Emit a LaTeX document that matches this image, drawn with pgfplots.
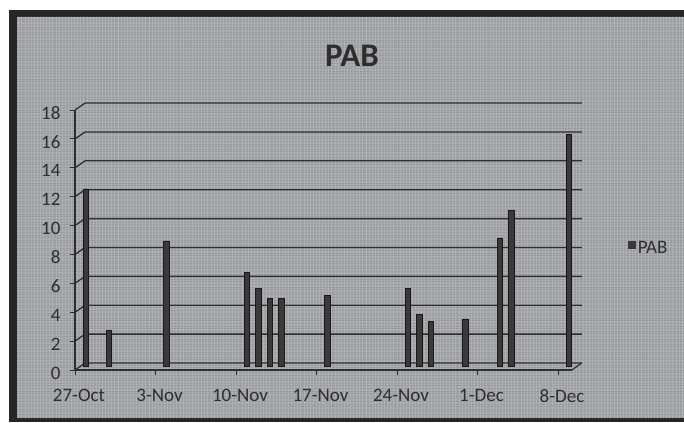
\documentclass[border=0pt]{standalone}
\usepackage{pgfplots}
\pgfplotsset{compat=1.18}
\usetikzlibrary{patterns.meta}
\usepackage{fontspec}
\setmainfont{Carlito}
\definecolor{bg}{HTML}{A6A7AB}
\definecolor{ink}{HTML}{2E2E2E}
\definecolor{barc}{HTML}{3A3A3A}
\begin{document}
\begin{tikzpicture}[x=1bp,y=1bp]
\useasboundingbox (0,0) rectangle (684,422);
\fill[white] (0,0) rectangle (684,422);
\fill[black!85] (9,0) rectangle (684,412);
\fill[bg] (17,4) rectangle (684,405);
\fill[pattern={Lines[angle=0, distance=2.6bp, line width=0.5bp]}, pattern color=black!60!bg, opacity=0.15] (17,4) rectangle (684,405);
\fill[pattern={Lines[angle=90, distance=3.1bp, line width=0.5bp]}, pattern color=white, opacity=0.15] (17,4) rectangle (684,405);
\node[font=\fontsize{33bp}{36bp}\selectfont\bfseries, text=ink] at (352,366) {PAB};
\begin{axis}[
  anchor=south west, at={(75bp,52bp)},
  x=11.5bp, y=14.44bp,
  xmin=0, xmax=43.2, ymin=0, ymax=18,
  axis x line*=bottom, axis y line*=left,
  axis line style={ink, line width=1.2bp, -},
  xtick={0,7,14,21,28,35,42},
  xticklabels={27-Oct,3-Nov,10-Nov,17-Nov,24-Nov,1-Dec,8-Dec},
  ytick={0,2,...,18},
  tick align=outside, major tick length=5bp,
  tick style={ink, line width=1bp},
  ticklabel style={font=\fontsize{19bp}{22bp}\selectfont, text=ink},
  xticklabel style={xshift=4bp, yshift=-11bp},
  yticklabel style={xshift=-6bp, yshift=-3bp},
  /pgf/number format/assume math mode=true,
  clip=false,
  legend style={at={(1.107,0.469)}, anchor=west, draw=none, fill=none,
    font=\fontsize{19bp}{22bp}\selectfont, text=ink},
  legend image code/.code={\fill[barc] (-3bp,-3.5bp) rectangle (4bp,3.5bp);},
]
\pgfplotsinvokeforeach{0,2,...,18}{
  \draw[ink, line width=1.3bp] (axis cs:0,#1) -- ++(10bp,7bp) -- ([shift={(10bp,7bp)}]axis cs:43.2,#1);
}
\draw[ink, line width=1.2bp] (axis cs:43.2,0) -- ++(10bp,7bp);
\addplot[ybar, bar width=5.5bp, bar shift=11bp, yshift=3.5bp, fill=barc, draw=black!90, line width=0.6bp]
  coordinates {(0,12.3)(2,2.5)(7,8.7)(14,6.5)(15,5.4)(16,4.7)(17,4.7)(21,4.9)(28,5.4)(29,3.6)(30,3.1)(33,3.3)(36,8.9)(37,10.8)(42,16.1)};
\addlegendentry{PAB}
\end{axis}
\end{tikzpicture}
\end{document}
